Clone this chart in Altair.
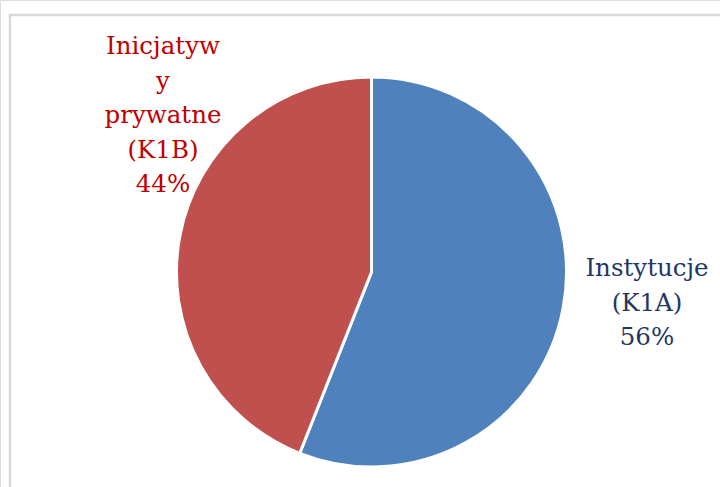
import altair as alt
import pandas as pd

categories = ["Instytucje (K1A)", "Inicjatywy prywatne (K1B)"]
values = [56, 44]
label_lines = ["Instytucje\n(K1A)\n56%", "Inicjatyw\ny\nprywatne\n(K1B)\n44%"]
slice_colors = ["#4F81BD", "#C0504D"]
label_colors = ["#1F3864", "#C00000"]

df = pd.DataFrame({"category": categories, "value": values, "order": [0, 1]})

border = alt.Chart(pd.DataFrame({"a": [0]})).mark_rect(
    fill=None, stroke="#D9D9D9", strokeWidth=2.5
).encode(x=alt.value(10), y=alt.value(15), x2=alt.value(760), y2=alt.value(540))

pie = alt.Chart(df).mark_arc(outerRadius=195, stroke="white", strokeWidth=3).encode(
    theta=alt.Theta("value:Q", stack=True),
    order=alt.Order("order:Q"),
    color=alt.Color("category:N", scale=alt.Scale(domain=categories, range=slice_colors), legend=None),
    x=alt.value(371.5),
    y=alt.value(272),
)

blue_lbl = alt.Chart(pd.DataFrame({"t": [label_lines[0]]})).mark_text(
    font="DejaVu Serif", fontSize=24.5, lineBreak="\n", lineHeight=34.5,
    align="center", baseline="alphabetic", color=label_colors[0]
).encode(text="t:N", x=alt.value(647), y=alt.value(276))

red_lbl = alt.Chart(pd.DataFrame({"t": [label_lines[1]]})).mark_text(
    font="DejaVu Serif", fontSize=24.5, lineBreak="\n", lineHeight=34.5,
    align="center", baseline="alphabetic", color=label_colors[1]
).encode(text="t:N", x=alt.value(163), y=alt.value(54))

chart = alt.layer(border, pie, blue_lbl, red_lbl).properties(
    width=720, height=487, padding=0, autosize=alt.AutoSizeParams(type="none")
).configure_view(stroke=None).configure(background="white")

chart.save("out.html", embed_options={"renderer": "svg", "actions": False})
